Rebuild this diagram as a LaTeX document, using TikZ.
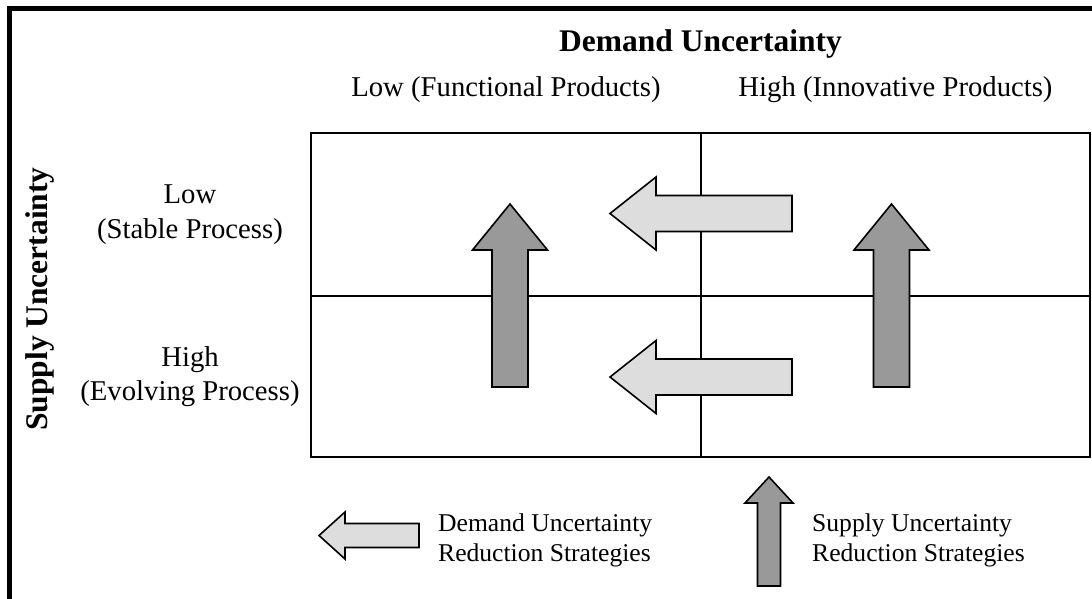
\documentclass[tikz,border=0pt]{standalone}
\usepackage{fontspec}
\setmainfont{Liberation Serif}
\definecolor{lightfill}{HTML}{DDDDDD}
\definecolor{darkfill}{HTML}{999999}
\begin{document}
\begin{tikzpicture}[x=1pt,y=-1pt,
  cell/.style={draw=black, line width=2pt, inner sep=0pt, outer sep=0pt, anchor=north west},
  lightarrow/.style={fill=lightfill, draw=black, line width=1.6pt, line join=miter},
  darkarrow/.style={fill=darkfill, draw=black, line width=1.6pt, line join=miter},
  lbl/.style={font=\fontsize{28.7}{34.4}\selectfont, align=center, inner sep=0pt},
  headlbl/.style={font=\fontsize{31.5}{36}\selectfont\bfseries, inner sep=0pt},
  leglbl/.style={font=\fontsize{25.6}{30}\selectfont, align=left, inner sep=0pt, anchor=west}]
\useasboundingbox (0,0) rectangle (1092,599);
\clip (0,0) rectangle (1092,599);
% outer frame (only top and left visible)
\draw[line width=4.5pt, line join=miter] (9.3,640) -- (9.3,8.5) -- (1130,8.5);
% grid cells
\node[cell, minimum width=390pt, minimum height=163pt] (c11) at (311,133) {};
\node[cell, minimum width=389pt, minimum height=163pt] (c12) at (701,133) {};
\node[cell, minimum width=390pt, minimum height=161pt] (c21) at (311,296) {};
\node[cell, minimum width=389pt, minimum height=161pt] (c22) at (701,296) {};
% supply uncertainty reduction arrows (up)
\draw[darkarrow] (492,387) -- (492,250) -- (472.5,250) -- (510,204) -- (547.5,250) -- (528,250) -- (528,387) -- cycle;
\draw[darkarrow] (873.5,387) -- (873.5,250) -- (854,250) -- (891.5,204) -- (929,250) -- (909.5,250) -- (909.5,387) -- cycle;
% demand uncertainty reduction arrows (left)
\draw[lightarrow] (792,195.5) -- (656,195.5) -- (656,177) -- (610,213.5) -- (656,250) -- (656,231.5) -- (792,231.5) -- cycle;
\draw[lightarrow] (792,359) -- (656,359) -- (656,340.5) -- (610,377) -- (656,413.5) -- (656,395) -- (792,395) -- cycle;
% texts
\node[headlbl, anchor=base] (dtitle) at (700.5,52) {Demand Uncertainty};
\node[lbl, anchor=base] (dlow) at (506,97) {Low (Functional Products)};
\node[lbl, anchor=base] (dhigh) at (895.5,97) {High (Innovative Products)};
\node[headlbl, rotate=90] (stitle) at (40,299) {Supply Uncertainty};
\node[lbl] (slow) at (190,214.5) {Low\\(Stable Process)};
\node[lbl] (shigh) at (190,376.5) {High\\(Evolving Process)};
% legend
\draw[lightarrow] (419,523.5) -- (345,523.5) -- (345,512) -- (319,535.5) -- (345,559) -- (345,547.5) -- (419,547.5) -- cycle;
\node[leglbl] (legd) at (438,540) {Demand Uncertainty\\Reduction Strategies};
\draw[darkarrow] (757.5,586) -- (757.5,503) -- (745,503) -- (769,477) -- (793,503) -- (780.5,503) -- (780.5,586) -- cycle;
\node[leglbl] (legs) at (812,540) {Supply Uncertainty\\Reduction Strategies};
\end{tikzpicture}
\end{document}
